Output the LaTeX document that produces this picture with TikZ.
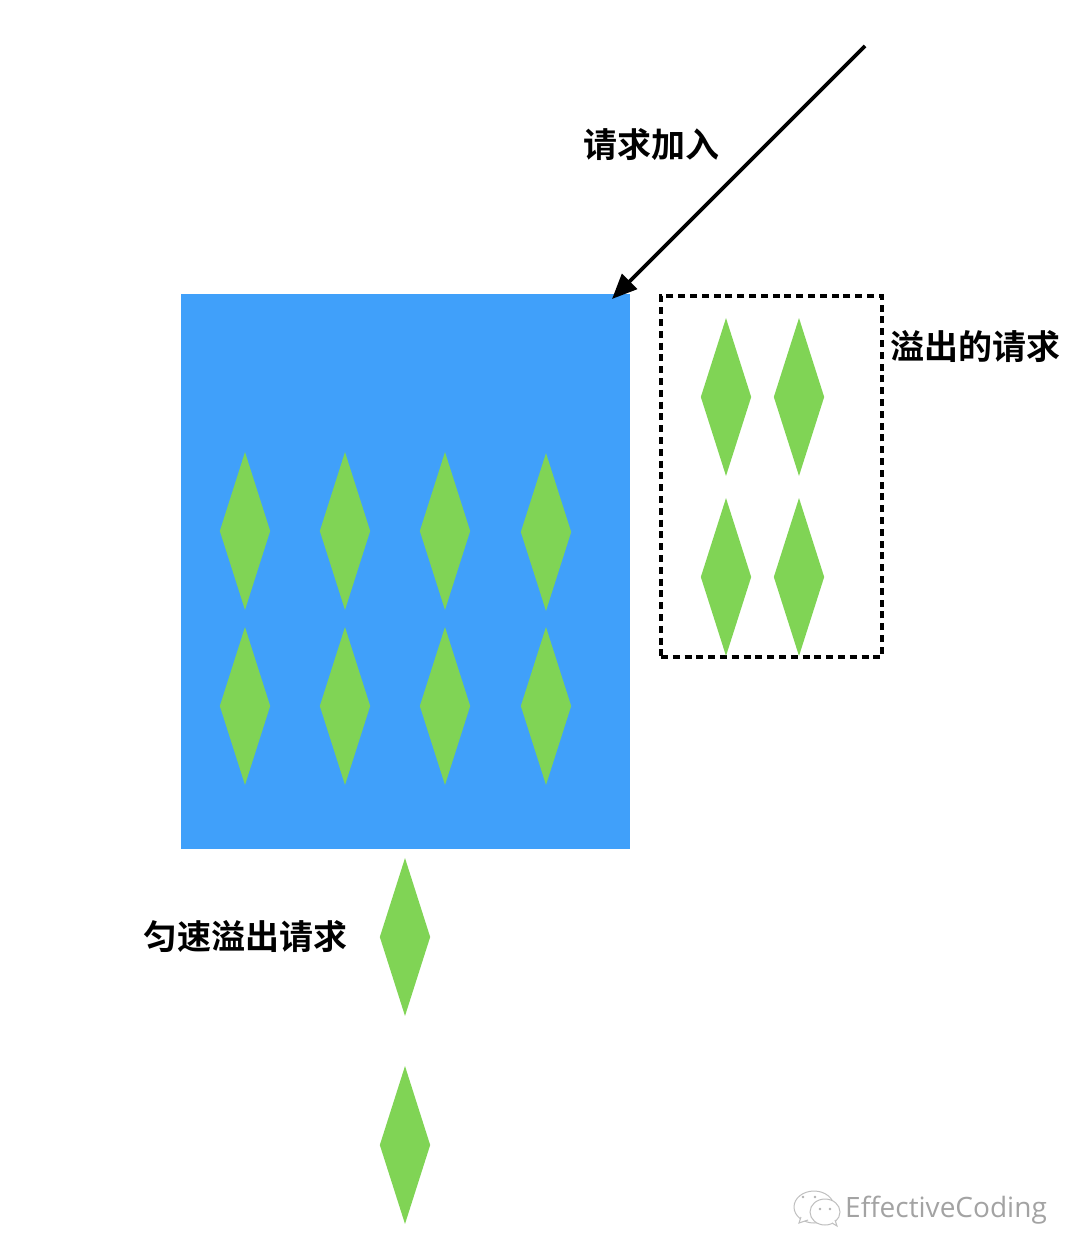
\documentclass[tikz,border=0pt]{standalone}
\usepackage{fontspec}
\newfontfamily\cjk[BoldFont={Noto Sans CJK SC Bold}]{Noto Sans CJK SC}
\newfontfamily\wm{Open Sans}
\usetikzlibrary{shapes.geometric,arrows.meta}
\definecolor{bluefill}{HTML}{40A0FA}
\definecolor{greenfill}{HTML}{80D455}
\tikzset{
  gem/.style={diamond,fill=greenfill,draw=none,inner sep=0pt,shape aspect=0.316,minimum width=50.5pt,minimum height=158pt},
  lab/.style={font=\cjk\bfseries\fontsize{34}{34}\selectfont,text=black,inner sep=0pt},
  wmtext/.style={font=\wm\fontsize{28}{28}\selectfont,inner sep=0pt},
  bubble/.style={draw=black!25,line width=1pt,fill=white}
}
\begin{document}
\begin{tikzpicture}[x=1pt,y=-1pt]
\useasboundingbox (0,0) rectangle (1080,1257);
\fill[white] (0,0) rectangle (1080,1257);
\node[fill=bluefill,inner sep=0pt,minimum width=449pt,minimum height=555pt] (bucket) at (405.5,571.5) {};
\node[draw=black,line width=3.6pt,dash pattern=on 7pt off 4.8pt,inner sep=0pt,minimum width=221pt,minimum height=361pt] (over) at (771.5,476.5) {};
\foreach \n/\x/\y in {a/245/531,b/345/531,c/445/531,d/546/532,e/245/706,f/345/706,g/445/706,h/546/706,i/726/397,j/799/397,k/726/577,l/799/577,m/405/937,n/405/1145}
  \node[gem] (gem\n) at (\x,\y) {};
\coordinate (src) at (865,46);
\coordinate (dst) at (612,299);
\draw[line width=3.8pt,-{Triangle[length=25pt,width=21pt]}] (src) -- (dst);
\node[lab] (l1) at (651,145) {请求加入};
\node[lab] (l2) at (975,347) {溢出的请求};
\node[lab] (l3) at (245,937) {匀速溢出请求};
% watermark
\node[wmtext,text=white] (wmb) at (947,1211) {EffectiveCoding};
\node[wmtext,text=black!36] (wm) at (946,1210) {EffectiveCoding};
\draw[bubble] (814,1207) ellipse (20pt and 16pt);
\draw[bubble] (801,1217) -- (799,1223) -- (808,1220);
\draw[bubble] (825,1212) ellipse (15pt and 13pt);
\draw[bubble] (832,1223) -- (837,1226) -- (835,1220);
\foreach \p/\q in {803/1197,815/1197,820/1209,830/1209}
  \fill[black!30] (\p,\q) circle (1.3pt);
\end{tikzpicture}
\end{document}
